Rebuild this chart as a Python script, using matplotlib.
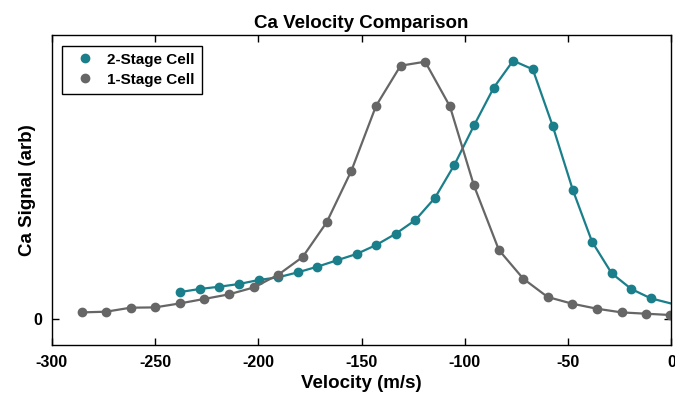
import matplotlib.pyplot as plt
from matplotlib.lines import Line2D

plt.rcParams['font.family'] = ['Liberation Sans', 'DejaVu Sans']
plt.rcParams['font.weight'] = 'bold'
plt.rcParams['axes.unicode_minus'] = False

# 2-stage cell (teal)
v_two = [-237.7, -228.4, -218.8, -209.3, -199.8, -190.3, -180.8, -171.4, -161.9, -152.4,
         -142.9, -133.4, -123.9, -114.4, -105.0, -95.5, -86.0, -76.6, -67.1, -57.4,
         -47.7, -38.4, -28.9, -19.4, -10.0, 9.0]
s_two = [27.3, 30.3, 32.6, 35.3, 39.3, 42.0, 47.0, 52.6, 59.0, 65.3,
         74.3, 85.6, 99.3, 121.6, 154.6, 194.0, 231.6, 258.6, 250.0, 193.0,
         129.3, 77.6, 46.0, 30.3, 21.0, 11.0]

# 1-stage cell (gray)
v_one = [-285.5, -273.7, -261.8, -250.0, -237.9, -226.3, -214.3, -202.1, -190.3, -178.5,
         -166.9, -154.9, -143.0, -131.1, -119.2, -107.2, -95.6, -83.5, -71.7, -59.9,
         -48.0, -36.1, -24.1, -12.4, -0.6]
s_one = [6.9, 7.6, 11.6, 11.9, 15.9, 20.3, 24.9, 31.9, 44.6, 62.3,
         96.9, 148.6, 213.3, 253.6, 257.6, 212.9, 133.9, 69.3, 40.6, 22.3,
         15.6, 10.6, 6.9, 5.6, 4.3]

teal = '#1a7f8a'
gray = '#666666'

fig = plt.figure(figsize=(6.75, 4), dpi=100)
ax = fig.add_axes([0.0766, 0.1375, 0.918, 0.775])

ax.plot(v_two, s_two, '-o', color=teal, lw=1.6, ms=6)
ax.plot(v_one, s_one, '-o', color=gray, lw=1.6, ms=6)

ax.set_xlim(-300, 0)
ax.set_ylim(-25.7, 284.3)
ax.set_xticks([-300, -250, -200, -150, -100, -50, 0])
ax.set_yticks([0])
ax.tick_params(direction='in', top=True, right=True, length=5, width=1, labelsize=11.5, pad=7)
for sp in ax.spines.values():
    sp.set_linewidth(1)

ax.set_title('Ca Velocity Comparison', fontsize=13.5, fontweight='bold', pad=5)
ax.set_xlabel('Velocity (m/s)', fontsize=13.5, fontweight='bold', labelpad=4)
ax.set_ylabel('Ca Signal (arb)', fontsize=13.5, fontweight='bold', labelpad=-2)

handles = [Line2D([], [], ls='none', marker='o', color=teal, ms=6),
           Line2D([], [], ls='none', marker='o', color=gray, ms=6)]
leg = ax.legend(handles, ['2-Stage Cell', '1-Stage Cell'], loc='upper left',
                fancybox=False, edgecolor='black', fontsize=11, framealpha=1,
                borderaxespad=0.7, handletextpad=0.5, labelspacing=0.4,
                borderpad=0.45)
leg.get_frame().set_linewidth(1)

fig.savefig('out.png', dpi=100)
